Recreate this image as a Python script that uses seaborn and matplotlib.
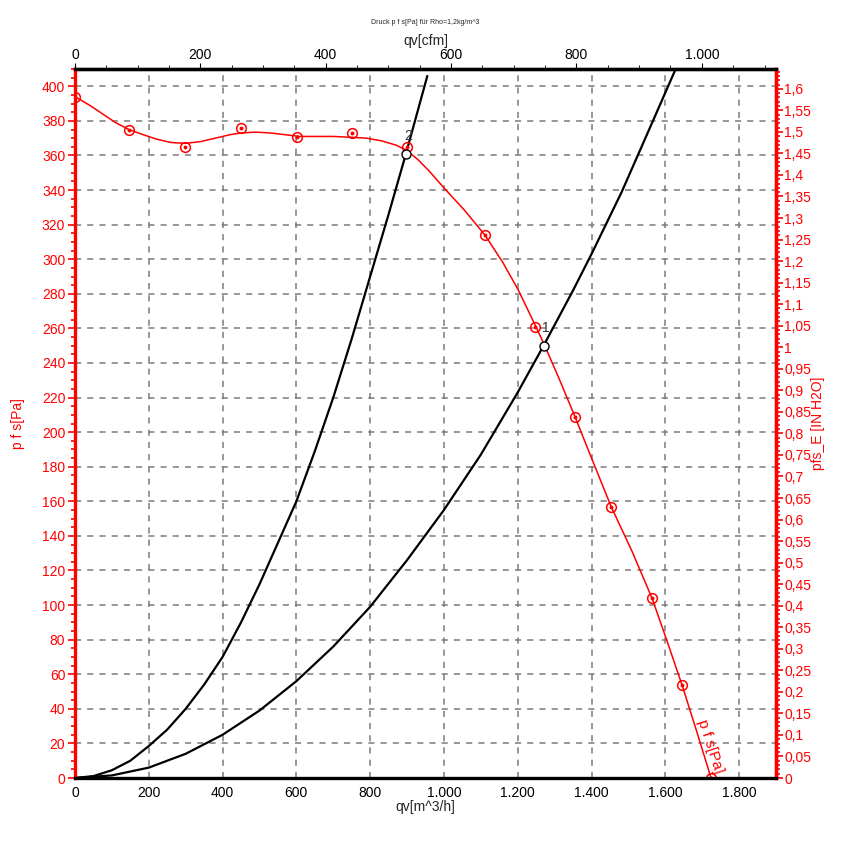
import numpy as np
import pandas as pd
import seaborn as sns
from matplotlib import pyplot as plt
from matplotlib.ticker import MultipleLocator, FuncFormatter, FixedLocator

# Kennlinie p f s [Pa] über qv [m^3/h]
curve_q = [0, 40, 75, 110, 146, 185, 220, 260, 298, 340, 380, 420, 450, 490, 530, 570, 610,
           660, 700, 750, 790, 830, 870, 899, 930, 960, 1001, 1055, 1111, 1160, 1202, 1247, 1270,
           1310, 1355, 1400, 1453, 1510, 1564, 1605, 1645, 1685, 1724]
curve_p = [394, 389, 384, 379, 375, 372, 369.5, 367.5, 367, 368, 370, 372, 373, 373.5, 373, 372, 371,
           371, 371, 370.5, 370, 368.5, 366, 363, 357.5, 351, 341, 328.5, 314, 298, 282, 262, 251.5,
           232, 209, 185, 157, 131, 104, 79, 54, 27, 0]

# Messpunkte
pts_q = [0, 146, 298, 450, 602, 751, 899, 1111, 1247, 1355, 1453, 1564, 1645, 1724]
pts_p = [394, 375, 365, 376, 370.5, 373, 365, 314, 261, 209, 157, 104, 54, 0]

# Anlagenkennlinien
sys1_q = [0, 50, 100, 150, 200, 250, 300, 350, 400, 450, 500, 550, 600, 650, 700, 750, 800, 850, 897, 955]
sys1_p = [0, 1.1, 4.5, 10, 18.5, 28, 40, 54, 70, 90, 112, 136, 160, 189, 220, 254, 290, 326, 361, 406]
sys2_q = [0, 100, 200, 300, 400, 500, 600, 700, 800, 900, 1000, 1100, 1200, 1270, 1350, 1400, 1482, 1550, 1626]
sys2_p = [0, 1.5, 6, 14, 25, 39, 56, 76, 99, 126, 155, 187, 223, 250, 282, 303, 339, 372, 409]

# Betriebspunkte
op_q = [897, 1270]
op_p = [361, 250]
op_label = ['2', '1']

PA_PER_INH2O = 249.089
M3H_PER_CFM = 1.699

sns.set_style('white')
plt.rcParams['font.family'] = ['Liberation Sans', 'DejaVu Sans']

red = '#ff0000'
fig = plt.figure(figsize=(8.49, 8.51), dpi=100)
ax = fig.add_axes([75 / 849, 73 / 851, 701 / 849, 709 / 851])

# Gitter
ax.set_xlim(0, 1900)
ax.set_ylim(0, 410)
ax.xaxis.set_major_locator(MultipleLocator(200))
ax.xaxis.set_minor_locator(MultipleLocator(40))
ax.yaxis.set_major_locator(MultipleLocator(20))
ax.yaxis.set_minor_locator(MultipleLocator(5))
ax.grid(True, which='major', color='#7a7a7a', linestyle=(0, (4, 4)), linewidth=1.1)

df_sys1 = pd.DataFrame({'q': sys1_q, 'p': sys1_p})
df_sys2 = pd.DataFrame({'q': sys2_q, 'p': sys2_p})
df_curve = pd.DataFrame({'q': curve_q, 'p': curve_p})

sns.lineplot(data=df_sys1, x='q', y='p', ax=ax, color='black', linewidth=1.6, sort=False, estimator=None)
sns.lineplot(data=df_sys2, x='q', y='p', ax=ax, color='black', linewidth=1.6, sort=False, estimator=None)
sns.lineplot(data=df_curve, x='q', y='p', ax=ax, color=red, linewidth=1.1, sort=False, estimator=None)

ax.plot(pts_q, pts_p, linestyle='none', marker='o', markersize=7, markerfacecolor='none',
        markeredgecolor=red, markeredgewidth=1.1, clip_on=True)
ax.plot(pts_q, pts_p, linestyle='none', marker='o', markersize=1.8, color=red)

ax.plot(op_q, op_p, linestyle='none', marker='o', markersize=6.5, markerfacecolor='white',
        markeredgecolor='black', markeredgewidth=1.0, zorder=5)
for q, p, lab in zip(op_q, op_p, op_label):
    ax.text(q + 5, p + 6, lab, fontsize=10, color='#333333', ha='center', va='bottom')

ax.text(1722, 18, 'p f s[Pa]', color=red, fontsize=11, rotation=-72,
        ha='center', va='center', rotation_mode='anchor')

# Achsen
thou = FuncFormatter(lambda v, pos: f'{v:,.0f}'.replace(',', '.'))
ax.xaxis.set_major_formatter(thou)
ax.set_xlabel('qv[m^3/h]', fontsize=10, labelpad=0)
ax.set_ylabel('p f s[Pa]', fontsize=10, color=red, labelpad=12)
ax.tick_params(axis='x', which='both', direction='out', colors='black', labelsize=10, pad=2)
ax.tick_params(axis='x', which='major', length=4, width=1)
ax.tick_params(axis='x', which='minor', length=3, width=1)
ax.tick_params(axis='y', which='both', direction='out', colors=red, labelsize=10, pad=2, left=True)
ax.tick_params(axis='y', which='major', length=5, width=1.2)
ax.tick_params(axis='y', which='minor', length=3, width=1.2)

for side in ['top', 'bottom']:
    ax.spines[side].set_color('black')
    ax.spines[side].set_linewidth(2.4)
for side in ['left', 'right']:
    ax.spines[side].set_color(red)
    ax.spines[side].set_linewidth(2.4)

top = ax.secondary_xaxis('top', functions=(lambda q: q / M3H_PER_CFM, lambda c: c * M3H_PER_CFM))
top.xaxis.set_major_locator(FixedLocator(np.arange(0, 1001, 200)))
top.xaxis.set_minor_locator(FixedLocator(np.arange(0, 1101, 50)))
top.xaxis.set_major_formatter(thou)
top.tick_params(axis='x', which='both', direction='out', colors='black', labelsize=10, pad=1)
top.tick_params(axis='x', which='major', length=4)
top.tick_params(axis='x', which='minor', length=3)
top.spines['top'].set_linewidth(2.4)
top.set_xlabel('qv[cfm]', fontsize=10, labelpad=2)

right = ax.secondary_yaxis('right', functions=(lambda p: p / PA_PER_INH2O, lambda i: i * PA_PER_INH2O))
right.yaxis.set_major_locator(MultipleLocator(0.05))
right.yaxis.set_minor_locator(MultipleLocator(0.01))
right.yaxis.set_major_formatter(FuncFormatter(lambda v, pos: f'{round(v, 2):g}'.replace('.', ',')))
right.tick_params(axis='y', which='both', direction='out', colors=red, labelsize=10, pad=1)
right.tick_params(axis='y', which='major', length=5, width=1.2)
right.tick_params(axis='y', which='minor', length=3, width=1.2)
right.spines['right'].set_color(red)
right.spines['right'].set_linewidth(2.4)
right.set_ylabel('pfs_E [IN H2O]', fontsize=10, color=red, labelpad=0)

fig.text(425 / 849, 1 - 22 / 851, 'Druck p f s[Pa] für Rho=1,2kg/m^3', fontsize=5,
         ha='center', va='center')

plt.savefig('out.png', dpi=100)
